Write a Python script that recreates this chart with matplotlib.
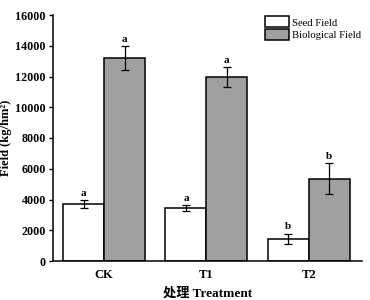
import numpy as np
import matplotlib
matplotlib.use('Agg')
import matplotlib.pyplot as plt

plt.rcParams['font.family'] = ['Liberation Serif', 'Noto Sans CJK SC']
plt.rcParams['font.weight'] = 'bold'

treatments = ['CK', 'T1', 'T2']
seed = [3700, 3450, 1430]
seed_err = [250, 200, 350]
bio = [13200, 11950, 5350]
bio_err = [780, 650, 1000]
seed_sig = ['a', 'a', 'b']
bio_sig = ['a', 'a', 'b']

fig = plt.figure(figsize=(3.7, 3.0), dpi=100)
ax = fig.add_axes([0.143, 0.13, 0.835, 0.82])

x = np.arange(len(treatments))
w = 0.4
ax.bar(x - w/2, seed, w, yerr=seed_err, color='white', edgecolor='black',
       linewidth=1.1, capsize=3, error_kw={'elinewidth': 0.9, 'capthick': 0.9},
       label='Seed Field')
ax.bar(x + w/2, bio, w, yerr=bio_err, color='#a0a0a0', edgecolor='black',
       linewidth=1.1, capsize=3, error_kw={'elinewidth': 0.9, 'capthick': 0.9},
       label='Biological Field')

for i in range(len(x)):
    ax.text(x[i] - w/2, seed[i] + seed_err[i] + 150, seed_sig[i],
            ha='center', va='bottom', fontsize=8, fontweight='bold')
    ax.text(x[i] + w/2, bio[i] + bio_err[i] + 150, bio_sig[i],
            ha='center', va='bottom', fontsize=8, fontweight='bold')

ax.set_xlim(-0.5, 2.52)
ax.set_ylim(0, 16000)
ax.set_yticks(range(0, 16001, 2000))
ax.set_xticks(x)
ax.set_xticklabels(treatments, fontsize=9, fontweight='bold')
ax.tick_params(axis='x', length=0, pad=6)
ax.tick_params(axis='y', labelsize=8.7, length=3, width=1, pad=2)
for lab in ax.get_yticklabels():
    lab.set_fontweight('bold')
ax.spines['top'].set_visible(False)
ax.spines['right'].set_visible(False)
ax.spines['left'].set_linewidth(1.1)
ax.spines['bottom'].set_linewidth(1.1)

ax.set_ylabel('Field (kg/hm²)', fontsize=9, fontweight='bold')
ax.yaxis.set_label_coords(-0.133, 0.5)
ax.set_xlabel('处理 Treatment', fontsize=9.5, fontweight='bold')
ax.xaxis.set_label_coords(0.5, -0.105)

ax.legend(loc='upper right', bbox_to_anchor=(1.02, 1.02), frameon=False,
          handlelength=2.2, handleheight=1.2, handletextpad=0.35,
          labelspacing=0.1, borderaxespad=0.2,
          prop={'family': 'Liberation Serif', 'size': 7.7, 'weight': 'normal'})

fig.savefig('out.png', dpi=100)
